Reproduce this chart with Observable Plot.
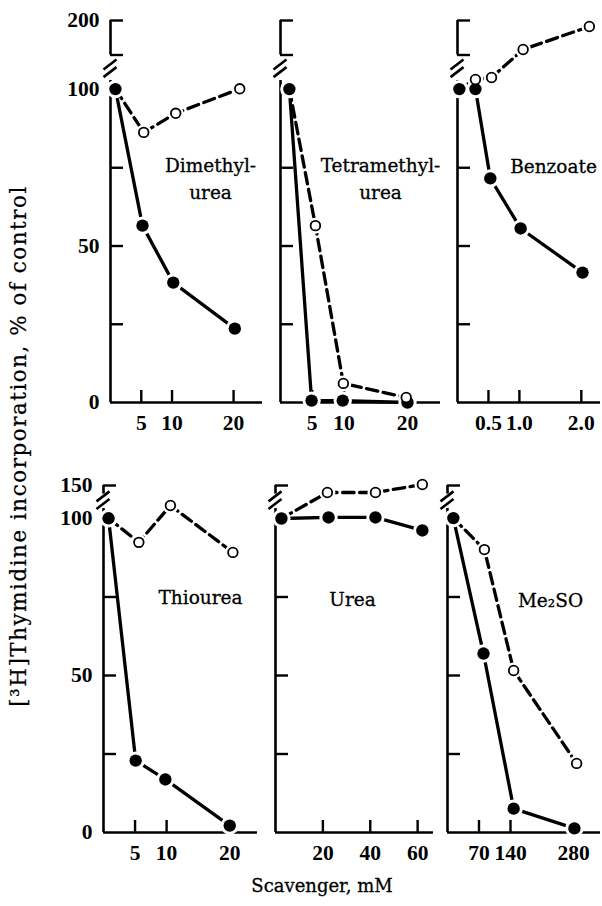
<!DOCTYPE html>
<html><head><meta charset="utf-8">
<script src="https://cdn.jsdelivr.net/npm/d3@7"></script>
<script src="https://cdn.jsdelivr.net/npm/@observablehq/plot@0.6"></script>
<style>
html,body{margin:0;padding:0;background:#fff;}
#page{position:relative;width:602px;height:906px;overflow:hidden;font-family:"DejaVu Serif",serif;color:#000;background:#fff;}
.panel{position:absolute;}
#ytitle{position:absolute;left:18px;top:446px;transform:translate(-50%,-50%) rotate(-90deg);white-space:nowrap;font-size:21.5px;letter-spacing:1.5px;-webkit-text-stroke:0.2px #000;}
#xtitle{position:absolute;left:322px;top:885px;transform:translate(-50%,-50%);font-size:18px;white-space:nowrap;-webkit-text-stroke:0.3px #000;}
</style></head><body>
<div id="page">
  <div id="ytitle">[³H]Thymidine incorporation, % of control</div>
  <div id="xtitle">Scavenger, mM</div>
</div>
<script>
// ---------- data ----------
const scavengers = ["Dimethyl-\nurea", "Tetramethyl-\nurea", "Benzoate", "Thiourea", "Urea", "Me₂SO"];
const xTicks = [[5, 10, 20], [5, 10, 20], [0.5, 1.0, 2.0], [5, 10, 20], [20, 40, 60], [70, 140, 280]];
const xMax = [24.7, 25.2, 2.31, 24.4, 66.7, 340];
const yTicksTop = [25, 50, 75, 100, 150, 200];
const yTicksBottom = [25, 50, 75, 100, 150];
const yLabelsTop = [0, 50, 100, 200];
const yLabelsBottom = [0, 50, 100, 150];
const yDomainTop = [0, 100, 200];
const yDomainBottom = [0, 100, 150];
// axis segments around the scale break (values)
const axisLowTop = 113, axisHighTop = 150, breakTop = 130;
const axisLowBottom = 115, axisHighBottom = 137, breakBottom = 127;

// filled circles (first point = control, shared by both curves)
const solidSeries = [
  [[0.8, 100.6], [5.2, 56.5], [10.2, 38.3], [20.2, 23.6]],
  [[1.4, 100.6], [4.9, 0.6], [9.8, 0.6], [20.0, 0]],
  [[0.03, 100.6], [0.29, 100.6], [0.53, 71.6], [1.02, 55.6], [2.02, 41.5]],
  [[0.8, 100.3], [5.1, 22.9], [9.8, 16.9], [20.0, 2.2]],
  [[2.5, 100.0], [22.4, 101.6], [42.2, 101.6], [62.0, 96.2]],
  [[13, 100.6], [80, 57.0], [147, 7.6], [282, 1.3]]
];
// open circles
const openSeries = [
  [[5.4, 86.3], [10.6, 92.4], [21.0, 101.0]],
  [[5.5, 56.5], [9.9, 6.1], [19.8, 1.6]],
  [[0.29, 114.5], [0.55, 117.4], [1.06, 158], [2.13, 191.3]],
  [[5.6, 92.4], [10.6, 119.7], [20.5, 89.2]],
  [[21.9, 139.4], [42.2, 139.4], [62.0, 151.5]],
  [[82, 90.1], [147, 51.6], [287, 22.0]]
];

// ---------- layout (pixels) ----------
const rowGeom = [
  {top: 0, height: 440, y0: 402, y100: 89, yTop: 20},
  {top: 440, height: 440, y0: 832, y100: 518, yTop: 485}
];
const panelGeom = [
  {row: 0, left: 40, width: 230, px0: 110, px1: 262, lab: [100, 156.5]},
  {row: 0, left: 270, width: 178, px0: 280, px1: 440, lab: [100, 156.5]},
  {row: 0, left: 445, width: 157, px0: 457, px1: 600, lab: [96, 144]},
  {row: 1, left: 40, width: 225, px0: 103, px1: 257, lab: [97, 110]},
  {row: 1, left: 265, width: 175, px0: 275, px1: 433, lab: [77, 112]},
  {row: 1, left: 440, width: 162, px0: 447, px1: 600, lab: [103, 113]}
];

const AX = 2.6, TICK = 13, LW = 3.3;
const NUMFONT = "Liberation Serif";
const fmt = [d3.format("d"), d3.format("d"), d3.format(".1f"), d3.format("d"), d3.format("d"), d3.format("d")];

function breakMark(val) {
  return (index, scales) => {
    const g = d3.create("svg:g").attr("stroke", "black").attr("stroke-width", 2.6);
    const x = scales.x(0), y = scales.y(val);
    for (const off of [-3.8, 3.8]) {
      g.append("line").attr("x1", x - 6.5).attr("y1", y + off + 5).attr("x2", x + 6.5).attr("y2", y + off - 5);
    }
    return g.node();
  };
}

const page = document.getElementById("page");
panelGeom.forEach((p, i) => {
  const r = rowGeom[p.row];
  const top = p.row === 0;
  const yDomain = top ? yDomainTop : yDomainBottom;
  const yTicks = top ? yTicksTop : yTicksBottom;
  const yLabels = top ? yLabelsTop : yLabelsBottom;
  const axisLow = top ? axisLowTop : axisLowBottom;
  const axisHigh = top ? axisHighTop : axisHighBottom;
  const brk = top ? breakTop : breakBottom;
  const marginLeft = p.px0 - p.left;
  const marginRight = p.left + p.width - p.px1;
  const marginTop = r.yTop - r.top;
  const marginBottom = r.height - (r.y0 - r.top);
  const frameW = p.px1 - p.px0;
  const frameH = r.y0 - r.yTop;
  const solid = solidSeries[i];
  const open = [solid[0], ...openSeries[i]];
  const X = d => d[0], Y = d => d[1];
  const showY = i === 0 || i === 3;

  const marks = [
    // axes lines
    Plot.ruleX([0], {y1: 0, y2: axisLow, strokeWidth: AX}),
    Plot.ruleX([0], {y1: axisHigh, y2: yDomain[2], strokeWidth: AX}),
    Plot.ruleY([0], {x1: 0, x2: xMax[i], strokeWidth: AX}),
    breakMark(brk),
    // inward ticks
    Plot.tickY(yTicks, {y: d => d, insetRight: frameW - TICK, strokeWidth: 2.4}),
    Plot.tickX(xTicks[i], {x: d => d, insetTop: frameH - 12, strokeWidth: 2.4}),
    // tick labels
    Plot.axisX({ticks: xTicks[i], tickSize: 0, tickPadding: 12, tickFormat: fmt[i], fontSize: 21.5, fontWeight: "bold", fontFamily: NUMFONT, label: null}),
    // curves
    Plot.line(open, {x: X, y: Y, strokeWidth: LW, strokeDasharray: "11.5,5.5"}),
    Plot.line(solid, {x: X, y: Y, strokeWidth: LW}),
    // halos for gaps around markers
    Plot.dot(openSeries[i], {x: X, y: Y, r: 8, fill: "white"}),
    Plot.dot(solid, {x: X, y: Y, r: 9.2, fill: "white"}),
    Plot.dot(solid, {x: X, y: Y, r: 6.2, fill: "black"}),
    Plot.dot(openSeries[i], {x: X, y: Y, r: 4.8, fill: "white", stroke: "black", strokeWidth: 1.8}),
    // panel name
    Plot.text([scavengers[i]], {text: d => d, frameAnchor: "top-left", dx: p.lab[0], dy: p.lab[1], textAnchor: "middle", lineAnchor: "middle", lineHeight: 1.46, fontSize: 18.5, stroke: "black", strokeWidth: 0.3, fill: "black"})
  ];
  if (showY) marks.push(Plot.axisY({ticks: yLabels, tickSize: 0, tickPadding: 11, tickFormat: d3.format("d"), fontSize: 21.5, fontWeight: "bold", fontFamily: NUMFONT, label: null}));

  const chart = Plot.plot({
    width: p.width, height: r.height,
    marginLeft, marginRight, marginTop, marginBottom,
    x: {type: "linear", domain: [0, xMax[i]]},
    y: {type: "linear", domain: yDomain, range: [r.y0 - r.top, r.y100 - r.top, r.yTop - r.top], ...(showY ? {} : {axis: null})},
    style: {background: "transparent", fontFamily: "DejaVu Serif", overflow: "visible", color: "black"},
    marks
  });
  chart.classList.add("panel");
  chart.style.left = p.left + "px";
  chart.style.top = r.top + "px";
  page.appendChild(chart);
});
</script>
</body></html>
